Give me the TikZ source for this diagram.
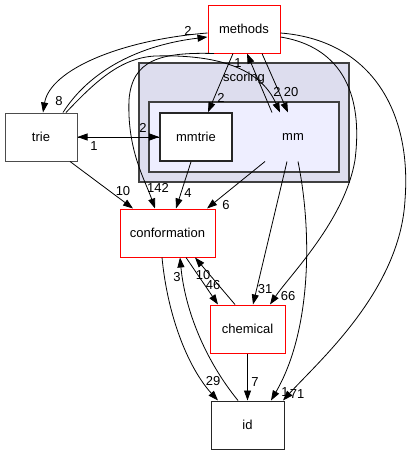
\documentclass[tikz,border=0pt]{standalone}
\usepackage{fontspec}
\setmainfont{Liberation Sans}
\usetikzlibrary{arrows.meta, positioning}

\definecolor{scoringbg}{RGB}{221,221,238}
\definecolor{mmbg}{RGB}{238,238,255}

\begin{document}
\begin{tikzpicture}[x=1pt, y=-1pt,
    dir/.style={rectangle, draw=black!70, fill=white, line width=1pt, minimum width=72pt, minimum height=48pt, inner sep=0pt, font=\fontsize{13}{15}\selectfont},
    hot/.style={dir, draw=red},
    dep/.style={-{Triangle[length=10pt,width=7pt]}, line width=0.8pt},
    num/.style={font=\fontsize{13}{15}\selectfont, inner sep=0pt},
    cluster/.style={draw=black!75, line width=1.6pt}
]
    \useasboundingbox (0,0) rectangle (413,455);

    % clusters
    \filldraw[cluster, fill=scoringbg] (139,63) rectangle (349,182);
    \node[num] (scoring) at (244,78) {scoring};
    \filldraw[cluster, fill=mmbg] (149,102) rectangle (339,172);

    % directories
    \node[hot] (methods) at (244,29) {methods};
    \node[dir] (trie) at (41,137) {trie};
    \node[dir, draw=black!85, line width=1.6pt] (mmtrie) at (196,137) {mmtrie};
    \node[dir, draw=none, fill=none] (mm) at (293,137) {mm};
    \node[hot, minimum width=95pt] (conformation) at (167.5,233) {conformation};
    \node[hot, minimum width=75pt] (chemical) at (247.5,329) {chemical};
    \node[dir, draw=black!85, minimum width=73pt] (id) at (247.5,425) {id};

    % dependencies
    \draw[dep] ([yshift=-4pt]methods.west) .. controls (120,40) and (50,70) .. ([xshift=2pt]trie.north);
    \draw[dep] ([xshift=22pt]trie.north) .. controls (90,70) and (140,45) .. ([yshift=-8pt]methods.west);
    \draw[dep] ([xshift=25pt]trie.north) .. controls (95,82) and (120,58) .. (155,56)
        .. controls (225,54) and (262,72) .. ([xshift=-13pt]mm.north);
    \draw[dep] ([xshift=-21pt]mm.north) -- ([xshift=3pt]methods.south);
    \draw[dep] ([xshift=18pt]methods.south) -- ([xshift=-5pt]mm.north);
    \draw[dep] ([xshift=-11pt]methods.south) -- ([xshift=12pt]mmtrie.north);
    \draw[dep] (trie.east) -- (mmtrie.west);
    \draw[dep] (mmtrie.west) -- (trie.east);
    \draw[dep] ([xshift=29pt]trie.south) -- ([xshift=-34.5pt]conformation.north);
    \draw[dep] ([xshift=-30pt]methods.south) .. controls (160,52) and (132,60) .. (129,100)
        .. controls (127,150) and (145,180) .. ([xshift=-12.5pt]conformation.north);
    \draw[dep] ([xshift=-5pt]mmtrie.south) -- ([xshift=8.5pt]conformation.north);
    \draw[dep] ([xshift=-28pt]mm.south) -- ([xshift=39.5pt]conformation.north);
    \draw[dep] ([xshift=-6pt]mm.south) -- ([xshift=5.5pt]chemical.north);
    \draw[dep] ([yshift=-8pt]methods.east) .. controls (330,45) and (365,80) .. (355,160)
        .. controls (345,220) and (290,275) .. ([xshift=22.5pt]chemical.north);
    \draw[dep] ([yshift=-4pt]methods.east) .. controls (370,40) and (412,110) .. (405,200)
        .. controls (400,290) and (320,360) .. ([xshift=35.5pt]id.north);
    \draw[dep] ([xshift=5pt]mm.south) .. controls (312,230) and (312,330) .. ([xshift=23.5pt]id.north);
    \draw[dep] ([xshift=-5.5pt]conformation.south) .. controls (168,320) and (190,370) .. ([xshift=-29.5pt]id.north);
    \draw[dep] ([xshift=-9.5pt]id.north) .. controls (205,360) and (185,310) .. ([xshift=12.5pt]conformation.south);
    \draw[dep] ([xshift=18.5pt]conformation.south) -- ([xshift=-29.5pt]chemical.north);
    \draw[dep] ([xshift=-12.5pt]chemical.north) -- ([xshift=27.5pt]conformation.south);
    \draw[dep] (chemical.south) -- (id.north);

    % counts
    \node[num] (n8) at (59,101) {8};
    \node[num] (n2a) at (188,31) {2};
    \node[num] (n2b) at (277,92) {2};
    \node[num] (n20) at (291,92) {20};
    \node[num] (n1a) at (238,63) {1};
    \node[num] (n2c) at (221,98) {2};
    \node[num] (n2d) at (143,128) {2};
    \node[num] (n1b) at (94,146) {1};
    \node[num] (n10a) at (123,191) {10};
    \node[num] (n142) at (158,188) {142};
    \node[num] (n4) at (188,193) {4};
    \node[num] (n6) at (226,205) {6};
    \node[num] (n31) at (265,289) {31};
    \node[num] (n66) at (288,296) {66};
    \node[num] (n1c) at (285,392) {1};
    \node[num] (n71) at (297,394) {71};
    \node[num] (n29) at (213,381) {29};
    \node[num] (n3) at (177,277) {3};
    \node[num] (n10b) at (203,275) {10};
    \node[num] (n46) at (213,285) {46};
    \node[num] (n7) at (255,382) {7};
\end{tikzpicture}
\end{document}
